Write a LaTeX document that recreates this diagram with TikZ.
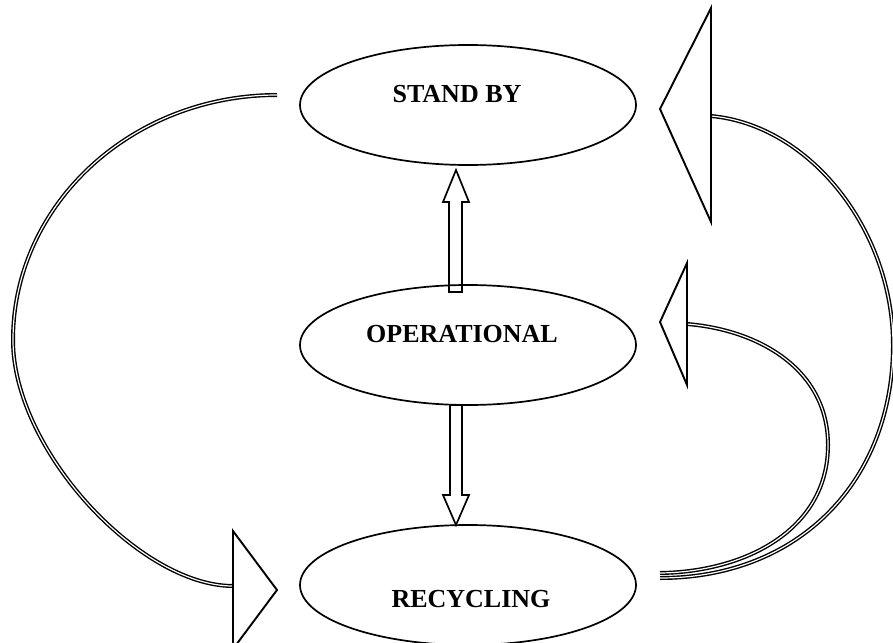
\documentclass[tikz,border=0pt]{standalone}
\usepackage{fontspec}
\setmainfont{Liberation Serif}
\usetikzlibrary{shapes.geometric}
\begin{document}
\begin{tikzpicture}[x=1pt,y=-1pt,
  state/.style={ellipse, draw, line width=1.7pt, minimum width=336pt, minimum height=120pt, inner sep=0pt},
  lbl/.style={font=\fontsize{26}{30}\selectfont\bfseries, inner sep=0pt},
  shaft/.style={double, double distance=1.2pt, line width=1.4pt},
  bighead/.style={draw, line width=1.9pt, line join=miter},
  blockarrow/.style={draw, line width=1.7pt, line join=miter}]
\useasboundingbox (0,0) rectangle (893,642);
% states
\node[state] (sb) at (468,105) {};
\node[lbl] (sbt) at (457,94) {STAND BY};
\node[state] (op) at (468,345) {};
\node[lbl] (opt) at (462,334) {OPERATIONAL};
\node[state] (rc) at (468,585) {};
\node[lbl] (rct) at (471,599) {RECYCLING};
% vertical block arrows
\coordinate (upS) at (456,292);
\coordinate (upT) at (456,170);
\draw[blockarrow] (449,292) -- (449,202) -- (443,202) -- (upT) -- (469,202) -- (462,202) -- (462,292) -- cycle;
\coordinate (dnS) at (456,405);
\coordinate (dnT) at (456,525);
\draw[blockarrow] (450,405) -- (450,495) -- (443,495) -- (dnT) -- (469,495) -- (462,495) -- (462,405) -- cycle;
% left curved arrow: stand by -> recycling
\coordinate (l0) at (277,95);
\coordinate (l1) at (233,586);
\draw[shaft] (l0) .. controls (131,95) and (13,205) .. (13,340) .. controls (13,450) and (140,586) .. (l1);
\draw[bighead] (233,531) -- (277,590) -- (233,649) -- cycle;
% right outer curved arrow: recycling -> stand by
\coordinate (r0) at (660,578);
\coordinate (r1) at (711,116);
\draw[shaft] (r0) .. controls (800,578) and (893,480) .. (893,345) .. controls (893,230) and (810,125) .. (r1);
\draw[bighead] (711,8) -- (660,109) -- (711,222) -- cycle;
% right inner curved arrow: recycling -> operational
\coordinate (i0) at (660,573);
\coordinate (i1) at (687,324);
\draw[shaft] (i0) .. controls (745,572) and (828,530) .. (828,445) .. controls (828,370) and (760,330) .. (i1);
\draw[bighead] (687,263) -- (660,322) -- (687,385) -- cycle;
\end{tikzpicture}
\end{document}
